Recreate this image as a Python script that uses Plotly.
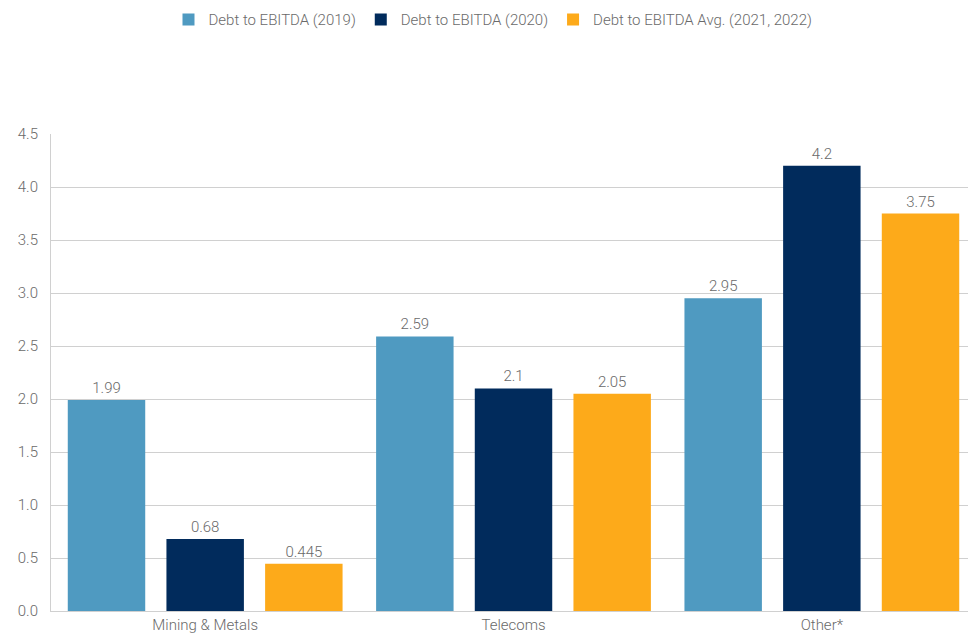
import plotly.graph_objects as go

# Debt to EBITDA ratios by sector
categories = ["Mining & Metals", "Telecoms", "Other*"]
debt_2019 = [1.99, 2.59, 2.95]
debt_2020 = [0.68, 2.1, 4.2]
debt_avg_21_22 = [0.445, 2.05, 3.75]

series_names = [
    "Debt to EBITDA (2019)",
    "Debt to EBITDA (2020)",
    "Debt to EBITDA Avg. (2021, 2022)",
]
series_values = [debt_2019, debt_2020, debt_avg_21_22]
series_colors = ["#4F9AC1", "#012B5C", "#FDAA1A"]

y_ticks = [0.0, 0.5, 1.0, 1.5, 2.0, 2.5, 3.0, 3.5, 4.0, 4.5]

FONT = "Roboto"
GRAY = "#6A6A6A"

fig = go.Figure()
for name, vals, color in zip(series_names, series_values, series_colors):
    fig.add_trace(
        go.Bar(
            name=name,
            x=categories,
            y=vals,
            marker=dict(color=color, line=dict(width=0)),
            text=[f"{v:g}" for v in vals],
            textposition="outside",
            textfont=dict(family=FONT, size=15, color=GRAY, weight=300),
            cliponaxis=False,
        )
    )

fig.update_layout(
    width=968,
    height=637,
    margin=dict(l=51, r=0, t=134, b=26, autoexpand=False),
    paper_bgcolor="white",
    plot_bgcolor="white",
    font=dict(family=FONT, size=15, color=GRAY, weight=300),
    barmode="group",
    bargap=0.04,
    bargroupgap=0.215,
    showlegend=True,
    legend=dict(
        orientation="h",
        x=0.482,
        xanchor="center",
        y=0.995,
        yanchor="top",
        yref="container",
        font=dict(family=FONT, size=15, color=GRAY, weight=300),
        itemwidth=30,
        traceorder="normal",
    ),
    xaxis=dict(
        type="category",
        range=[-0.5, 2.474],
        automargin=False,
        showline=True,
        linecolor="#D0D0D0",
        linewidth=1,
        showgrid=False,
        ticks="",
        ticklabelstandoff=0,
        tickfont=dict(family=FONT, size=15, color=GRAY, weight=300),
    ),
    yaxis=dict(
        range=[0, 4.5],
        tickvals=y_ticks,
        tickformat=".1f",
        automargin=False,
        showgrid=True,
        gridcolor="#D0D0D0",
        gridwidth=1,
        showline=True,
        linecolor="#D0D0D0",
        linewidth=1,
        zeroline=False,
        ticks="",
        ticklabelstandoff=9,
        tickfont=dict(family=FONT, size=15, color=GRAY, weight=300),
    ),
)

fig.write_html("out.html")
